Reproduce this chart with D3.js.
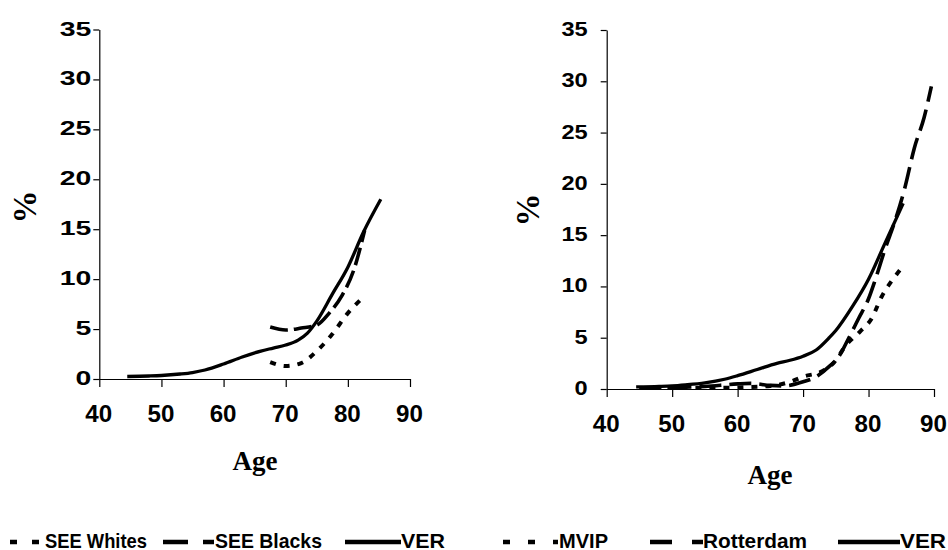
<!DOCTYPE html>
<html><head><meta charset="utf-8">
<script src="https://cdn.jsdelivr.net/npm/d3@7"></script>
<style>
html,body{margin:0;padding:0;background:#fff;}
svg{display:block;}
</style></head>
<body>
<svg id="chart" width="948" height="550"></svg>
<script>
// ---------- DATA ----------
const xTicks = [40, 50, 60, 70, 80, 90];
const yTicks = [0, 5, 10, 15, 20, 25, 30, 35];

// Left panel
const verAgeL   = [44.5, 48, 50, 53, 55, 57, 60, 63, 66, 68, 70, 72, 73.5, 75, 77.5, 80, 82.5, 85.3];
const verL      = [0.25, 0.3, 0.35, 0.5, 0.65, 0.9, 1.5, 2.2, 2.8, 3.1, 3.4, 3.9, 4.6, 5.8, 8.5, 11.2, 14.7, 18.0];
const seeBlkAge = [67.5, 70, 72.5, 75, 77, 79, 81, 82.7];
const seeBlk    = [5.2, 4.9, 5.1, 5.4, 6.6, 8.3, 11.0, 14.9];
const seeWhtAge = [67.5, 70, 72.5, 75, 77.5, 80, 82];
const seeWht    = [1.7, 1.3, 1.6, 2.8, 4.5, 6.6, 7.9];

// Right panel
const verAgeR   = [44.5, 48, 50, 52, 55, 58, 60, 63, 66, 68, 70, 72, 74, 75, 77.5, 80, 82.5, 85.3];
const verR      = [0.2, 0.25, 0.3, 0.4, 0.6, 0.95, 1.3, 1.9, 2.5, 2.8, 3.2, 3.8, 5.0, 5.7, 8.0, 10.7, 14.2, 18.1];
const rotAge    = [45, 50, 55, 60, 62, 65, 67, 70, 72, 74, 75.5, 77, 78.5, 80, 81, 82.5, 84, 85.5, 87, 88.5, 89.6];
const rot       = [0.1, 0.15, 0.25, 0.5, 0.55, 0.35, 0.3, 0.7, 1.2, 2.2, 3.2, 5.0, 6.9, 8.8, 10.6, 13.6, 16.3, 19.5, 23.5, 26.5, 29.5];
const mvipAge   = [45, 50, 55, 60, 65, 68, 70, 72.8, 74.6, 76.6, 78.7, 80.5, 82, 83.5, 84.8];
const mvip      = [0.1, 0.1, 0.1, 0.15, 0.3, 0.7, 1.2, 1.7, 2.5, 4.3, 5.6, 6.9, 9.0, 10.5, 11.6];

const legendLeft  = ["SEE Whites", "SEE Blacks", "VER"];
const legendRight = ["MVIP", "Rotterdam", "VER"];

// ---------- DRAW ----------
const svg = d3.select("#chart");
const SANS = "'Liberation Sans', Arial, Helvetica, sans-serif";
const SERIF = "'Liberation Serif', 'Times New Roman', Times, serif";

const styles = {
  solid: {w: 3.3, dash: null},
  long:  {w: 3.6, dash: "18,6"},
  long2: {w: 3.6, dash: "22,8"},
  dot:   {w: 4, dash: "6,8"}
};

function panel(cfg) {
  const x = d3.scaleLinear().domain([40, 90]).range(cfg.xr);
  const y = d3.scaleLinear().domain([0, 35]).range(cfg.yr);
  const g = svg.append("g");

  // y axis
  const ya = g.append("g").attr("transform", `translate(${cfg.xr[0]},0)`)
    .call(d3.axisLeft(y).tickValues(yTicks).tickSize(6).tickSizeOuter(0).tickFormat(d3.format("d")));
  ya.select(".domain").attr("stroke", "#000").attr("stroke-width", 1.2);
  ya.selectAll(".tick line").attr("stroke", "#000").attr("stroke-width", 1.2);
  ya.selectAll(".tick text")
    .attr("x", null).attr("dy", null)
    .attr("transform", `translate(${-cfg.yPad},${cfg.yBase}) scale(${cfg.ySx},1)`)
    .attr("text-anchor", "end")
    .style("font-family", SANS).style("font-weight", "bold").style("font-size", cfg.yFs + "px").attr("fill", "#000");

  // x axis
  const xa = g.append("g").attr("transform", `translate(0,${cfg.yr[0]})`)
    .call(d3.axisBottom(x).tickValues(xTicks).tickSize(8).tickSizeOuter(0).tickFormat(d3.format("d")));
  xa.select(".domain").attr("stroke", "#000").attr("stroke-width", 1.2);
  xa.selectAll(".tick line").attr("stroke", "#000").attr("stroke-width", 1.2);
  xa.selectAll(".tick text")
    .attr("y", null).attr("dy", null)
    .attr("transform", `translate(-1,${cfg.xBase}) scale(${cfg.xSx},1)`)
    .attr("text-anchor", "middle")
    .style("font-family", SANS).style("font-weight", "bold").style("font-size", cfg.xFs + "px").attr("fill", "#000");

  // series
  const line = d3.line().x(d => x(d[0])).y(d => y(d[1])).curve(d3.curveMonotoneX);
  cfg.series.forEach(s => {
    const st = styles[s.style];
    g.append("path")
      .datum(d3.zip(s.ages, s.vals))
      .attr("d", line)
      .attr("fill", "none")
      .attr("stroke", "#000")
      .attr("stroke-width", st.w)
      .attr("stroke-dasharray", st.dash)
      .attr("stroke-linejoin", "round");
  });

  // axis titles
  g.append("text").text("Age")
    .attr("x", cfg.ageX).attr("y", cfg.ageY)
    .attr("text-anchor", "middle")
    .style("font-family", SERIF).style("font-weight", "bold").style("font-size", "27px");
  g.append("text").text("%")
    .attr("transform", `translate(${cfg.pctX},${cfg.pctY}) rotate(-90)`)
    .attr("text-anchor", "middle").attr("dominant-baseline", "central")
    .style("font-family", SERIF).style("font-weight", "bold").style("font-size", "33px");
}

panel({
  xr: [99.3, 410], yr: [379, 29.5],
  yPad: 8, yBase: 5.5, ySx: 1.42, yFs: 20,
  xBase: 43, xSx: 1.05, xFs: 23,
  ageX: 255, ageY: 470, pctX: 25, pctY: 207,
  series: [
    {ages: verAgeL, vals: verL, style: "solid"},
    {ages: seeBlkAge, vals: seeBlk, style: "long"},
    {ages: seeWhtAge, vals: seeWht, style: "dot"}
  ]
});

panel({
  xr: [606.7, 934], yr: [389, 30],
  yPad: 19, yBase: 5.5, ySx: 1.18, yFs: 20,
  xBase: 43, xSx: 1.05, xFs: 23,
  ageX: 770, ageY: 484, pctX: 528, pctY: 210,
  series: [
    {ages: verAgeR, vals: verR, style: "solid"},
    {ages: rotAge, vals: rot, style: "long2"},
    {ages: mvipAge, vals: mvip, style: "dot"}
  ]
});

// ---------- LEGEND ----------
const legItems = [
  {label: legendLeft[0],  x1: 10,  x2: 44,  dash: "7,15",  tx: 45,  tw: 102},
  {label: legendLeft[1],  x1: 163, x2: 214, dash: "25,15", tx: 215, tw: 107},
  {label: legendLeft[2],  x1: 345, x2: 401, dash: null,    tx: 401, tw: 44},
  {label: legendRight[0], x1: 503, x2: 558, dash: "7,18",  tx: 559, tw: 49},
  {label: legendRight[1], x1: 650, x2: 703, dash: "22,20", tx: 703, tw: 104},
  {label: legendRight[2], x1: 838, x2: 900, dash: null,    tx: 900, tw: 46}
];
const leg = svg.append("g");
legItems.forEach(it => {
  leg.append("line")
    .attr("x1", it.x1).attr("x2", it.x2).attr("y1", 542).attr("y2", 542)
    .attr("stroke", "#000").attr("stroke-width", 4.5)
    .attr("stroke-dasharray", it.dash);
  leg.append("text").text(it.label)
    .attr("x", it.tx).attr("y", 547.5)
    .attr("textLength", it.tw).attr("lengthAdjust", "spacingAndGlyphs")
    .style("font-family", SANS).style("font-weight", "bold").style("font-size", "21px");
});
</script>
</body></html>
